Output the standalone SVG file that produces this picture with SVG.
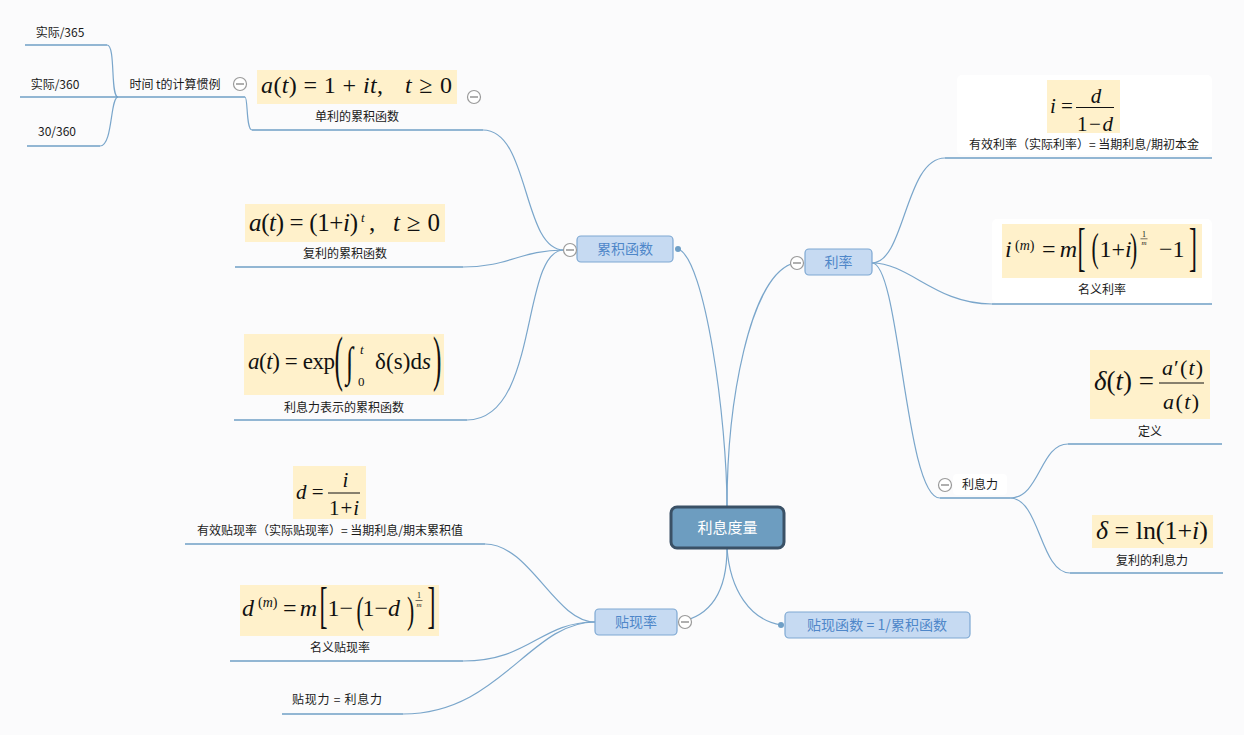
<svg xmlns="http://www.w3.org/2000/svg" width="1244" height="735" viewBox="0 0 1244 735">
<style>
.ln{fill:none;stroke:#7aa6cb;stroke-width:1.2}
.ul{stroke:#6f9fc6;stroke-width:1.3}
.lbl{font-family:"Noto Sans CJK SC","Noto Sans",sans-serif;font-size:12px;fill:#1a1a1a;text-anchor:middle}
.tbox{fill:#c6daf2;stroke:#7ea8d2;stroke-width:1.2}
.tt{font-family:"Noto Sans CJK SC","Noto Sans",sans-serif;font-size:14px;fill:#4f87c9;text-anchor:middle}
.fm{fill:#fff1cb}
.m{font-family:"Liberation Serif","Times New Roman",serif;fill:#111}
.it{font-style:italic}
.col circle{fill:#fff;stroke:#9a9a9a;stroke-width:1.2}
.col line{stroke:#7a7a7a;stroke-width:1.2}
.dot{fill:#6f9fc6}
.wb{fill:#ffffff}
</style>
<rect width="1244" height="735" fill="#fbfbfc"/>

<g id="connectors">
<path class="ln" d="M678,249 C705,258 727,420 727,507"/>
<path class="ln" d="M727,507 C727,400 750,280 791,264"/>
<path class="ln" d="M727,548 C727,590 712,616 679,622"/>
<path class="ln" d="M727,548 C730,590 750,620 781,625"/>
<path class="ln" d="M483,130 C530,130 522,250 564,250"/>
<path class="ln" d="M463,267 C510,267 520,250 564,250"/>
<path class="ln" d="M467,420 C540,420 520,250 564,250"/>
<path class="ln" d="M245,97 C248,97 246,130 252,130"/>
<path class="ln" d="M107,45 C116,45 110,97 118,97"/>
<path class="ln" d="M100,146 C113,146 110,97 118,97"/>
<path class="ln" d="M872,263 C905,263 905,158 945,158"/>
<path class="ln" d="M872,263 C910,263 935,304 992,304"/>
<path class="ln" d="M872,263 C900,263 905,498 940,498"/>
<path class="ln" d="M1010,498 C1040,498 1040,444 1068,444"/>
<path class="ln" d="M1010,498 C1040,498 1040,573 1070,573"/>
<path class="ln" d="M485,544 C530,544 555,622 595,622"/>
<path class="ln" d="M463,661 C530,661 540,622 595,622"/>
<path class="ln" d="M403,714 C500,714 530,622 595,622"/>
</g>

<g id="root">
<rect x="671" y="507" width="113" height="41" rx="6" fill="#6d9dc0" stroke="#3a5166" stroke-width="3"/>
<text x="727.5" y="533" font-family="Noto Sans CJK SC, sans-serif" font-size="15" fill="#ffffff" text-anchor="middle">利息度量</text>
</g>

<g id="topic-leiji">
<rect class="tbox" x="577" y="236" width="96" height="26" rx="4"/>
<text class="tt" x="625" y="254">累积函数</text>
<circle class="dot" cx="678" cy="249" r="3"/>
<g class="col"><circle cx="570" cy="250" r="6.5"/><line x1="566" y1="250" x2="574" y2="250"/></g>
</g>

<g id="topic-lilv">
<rect class="tbox" x="805" y="249" width="67" height="26" rx="4"/>
<text class="tt" x="838.5" y="267">利率</text>
<g class="col"><circle cx="797" cy="263" r="6.5"/><line x1="793" y1="263" x2="801" y2="263"/></g>
</g>

<g id="topic-tiexianlv">
<rect class="tbox" x="595" y="609" width="82" height="26" rx="4"/>
<text class="tt" x="636" y="627">贴现率</text>
<g class="col"><circle cx="685" cy="622" r="6.5"/><line x1="681" y1="622" x2="689" y2="622"/></g>
</g>

<g id="topic-tiexianhanshu">
<rect class="tbox" x="785" y="612" width="185" height="26" rx="4"/>
<text class="tt" x="877" y="630" textLength="140">贴现函数 = 1/累积函数</text>
<circle class="dot" cx="781" cy="625" r="3"/>
</g>

<g id="leaf-365">
<line class="ul" x1="25" y1="45" x2="107" y2="45"/>
<text class="lbl" x="60" y="37">实际/365</text>
</g>
<g id="leaf-360">
<line class="ul" x1="20" y1="97" x2="118" y2="97"/>
<text class="lbl" x="55" y="89">实际/360</text>
</g>
<g id="leaf-30-360">
<line class="ul" x1="27" y1="146" x2="100" y2="146"/>
<text class="lbl" x="57" y="136">30/360</text>
</g>
<g id="node-shijian">
<line class="ul" x1="118" y1="97" x2="245" y2="97"/>
<text class="lbl" x="175" y="89">时间 t的计算惯例</text>
<g class="col"><circle cx="240" cy="84" r="6.5"/><line x1="236" y1="84" x2="244" y2="84"/></g>
</g>

<g id="node-danli">
<rect class="fm" x="257" y="70" width="200" height="34"/>
<text class="m" x="261" y="93" font-size="24" textLength="122"><tspan class="it">a</tspan>(<tspan class="it">t</tspan>) = 1 + <tspan class="it">it</tspan>,</text>
<text class="m" x="405" y="93" font-size="24" textLength="47"><tspan class="it">t</tspan> ≥ 0</text>
<text class="lbl" x="357" y="121">单利的累积函数</text>
<line class="ul" x1="252" y1="130" x2="483" y2="130"/>
<g class="col"><circle cx="474" cy="97" r="6.5"/><line x1="470" y1="97" x2="478" y2="97"/></g>
</g>

<g id="node-fuli">
<rect class="fm" x="245" y="204" width="200" height="38"/>
<text class="m" x="249" y="231" font-size="25" textLength="109"><tspan class="it">a</tspan>(<tspan class="it">t</tspan>) = (1+<tspan class="it">i</tspan>)</text>
<text class="m it" x="361" y="222" font-size="13">t</text>
<text class="m" x="369" y="231" font-size="25">,</text>
<text class="m" x="393" y="231" font-size="25" textLength="47"><tspan class="it">t</tspan> ≥ 0</text>
<text class="lbl" x="345" y="258">复利的累积函数</text>
<line class="ul" x1="235" y1="267" x2="463" y2="267"/>
</g>

<g id="node-lixili-leiji">
<rect class="fm" x="244" y="334" width="200" height="61"/>
<text class="m" x="248" y="369" font-size="23" textLength="87"><tspan class="it">a</tspan>(<tspan class="it">t</tspan>) = exp</text>
<text class="m" font-size="28" transform="translate(334.5,379) scale(0.9,2.18)">(</text>
<text class="m" font-size="26" transform="translate(346,376) scale(1,1.6)">∫</text>
<text class="m it" x="360" y="354" font-size="13">t</text>
<text class="m" x="358" y="386" font-size="13">0</text>
<text class="m" x="375" y="369" font-size="23" textLength="56">δ(s)d<tspan class="it">s</tspan></text>
<text class="m" font-size="28" transform="translate(433,379) scale(0.9,2.18)">)</text>
<text class="lbl" x="344" y="412">利息力表示的累积函数</text>
<line class="ul" x1="234" y1="420" x2="467" y2="420"/>
</g>

<g id="node-youxiaolilv">
<rect class="wb" x="957" y="75" width="255" height="80" rx="5"/>
<rect class="fm" x="1047" y="80" width="73" height="53"/>
<text class="m" x="1050" y="113" font-size="21"><tspan class="it">i</tspan> =</text>
<line x1="1076" y1="107.5" x2="1114" y2="107.5" stroke="#111" stroke-width="1"/>
<text class="m it" x="1096" y="103" font-size="21" text-anchor="middle">d</text>
<text class="m" x="1077" y="131" font-size="21" textLength="36">1−<tspan class="it">d</tspan></text>
<text class="lbl" x="1084" y="149">有效利率（实际利率）= 当期利息/期初本金</text>
<line class="ul" x1="945" y1="158" x2="1212" y2="158"/>
</g>

<g id="node-mingyililv">
<rect class="wb" x="992" y="219" width="220" height="84" rx="5"/>
<rect class="fm" x="1002" y="224" width="200" height="54"/>
<text class="m it" x="1005" y="257" font-size="24">i</text>
<text class="m" x="1015" y="250" font-size="14">(<tspan class="it">m</tspan>)</text>
<text class="m" x="1042" y="257" font-size="24" textLength="35">= <tspan class="it">m</tspan></text>
<text class="m" font-size="24" transform="translate(1077.5,264.6) scale(1.0,2.24)">[</text>
<text class="m" font-size="24" transform="translate(1091.5,260.7) scale(0.9,1.71)">(</text>
<text class="m" x="1099.5" y="257" font-size="24">1+<tspan class="it">i</tspan></text>
<text class="m" font-size="24" transform="translate(1130,260.7) scale(0.9,1.71)">)</text>
<text class="m" x="1144" y="237" font-size="8" text-anchor="middle">1</text>
<line x1="1140.5" y1="238.8" x2="1147.5" y2="238.8" stroke="#111" stroke-width="0.6"/>
<text class="m it" x="1144" y="244.5" font-size="7" text-anchor="middle">m</text>
<text class="m" x="1159" y="257" font-size="24">−1</text>
<text class="m" font-size="24" transform="translate(1189,264.6) scale(1.0,2.24)">]</text>
<text class="lbl" x="1102" y="294">名义利率</text>
<line class="ul" x1="992" y1="304" x2="1212" y2="304"/>
</g>

<g id="node-lixili">
<rect class="wb" x="953" y="474" width="54" height="21" rx="4"/>
<text class="lbl" x="980" y="489">利息力</text>
<line class="ul" x1="940" y1="498" x2="1010" y2="498"/>
<g class="col"><circle cx="945" cy="485" r="6.5"/><line x1="941" y1="485" x2="949" y2="485"/></g>
</g>

<g id="node-dingyi">
<rect class="fm" x="1090" y="350" width="120" height="69"/>
<text class="m" x="1094" y="390" font-size="27"><tspan class="it">δ</tspan>(<tspan class="it">t</tspan>) =</text>
<line x1="1159" y1="383" x2="1204" y2="383" stroke="#111" stroke-width="1"/>
<text class="m" x="1162" y="375" font-size="22" textLength="41"><tspan class="it">a</tspan>′(<tspan class="it">t</tspan>)</text>
<text class="m" x="1163" y="409" font-size="22" textLength="36"><tspan class="it">a</tspan>(<tspan class="it">t</tspan>)</text>
<text class="lbl" x="1150" y="436">定义</text>
<line class="ul" x1="1068" y1="444" x2="1222" y2="444"/>
</g>

<g id="node-fulilixili">
<rect class="fm" x="1092" y="515" width="121" height="33"/>
<text class="m" x="1096" y="539" font-size="26" textLength="112"><tspan class="it">δ</tspan> = ln(1+<tspan class="it">i</tspan>)</text>
<text class="lbl" x="1152" y="565">复利的利息力</text>
<line class="ul" x1="1070" y1="573" x2="1223" y2="573"/>
</g>

<g id="node-youxiaotiexian">
<rect class="fm" x="293" y="466" width="73" height="53"/>
<text class="m" x="296" y="499" font-size="21"><tspan class="it">d</tspan> =</text>
<line x1="328" y1="493" x2="360" y2="493" stroke="#111" stroke-width="1"/>
<text class="m it" x="345.5" y="487" font-size="21" text-anchor="middle">i</text>
<text class="m" x="329" y="515" font-size="21" textLength="30">1+<tspan class="it">i</tspan></text>
<text class="lbl" x="330" y="535">有效贴现率（实际贴现率）= 当期利息/期末累积值</text>
<line class="ul" x1="185" y1="544" x2="485" y2="544"/>
</g>

<g id="node-mingyitiexian">
<rect class="fm" x="240" y="585" width="199" height="51"/>
<text class="m it" x="242" y="616" font-size="24">d</text>
<text class="m" x="258" y="607" font-size="14">(<tspan class="it">m</tspan>)</text>
<text class="m" x="283" y="616" font-size="24" textLength="34">= <tspan class="it">m</tspan></text>
<text class="m" font-size="24" transform="translate(319.5,622.2) scale(1.0,2.09)">[</text>
<text class="m" x="327.5" y="616" font-size="24">1−</text>
<text class="m" font-size="24" transform="translate(356.5,623.2) scale(0.9,1.61)">(</text>
<text class="m" x="362.5" y="616" font-size="24">1−<tspan class="it">d</tspan></text>
<text class="m" font-size="24" transform="translate(407,623.2) scale(0.9,1.61)">)</text>
<text class="m" x="419" y="597.5" font-size="8" text-anchor="middle">1</text>
<line x1="415.5" y1="600.5" x2="422.5" y2="600.5" stroke="#111" stroke-width="0.6"/>
<text class="m it" x="419" y="606.5" font-size="7" text-anchor="middle">m</text>
<text class="m" font-size="24" transform="translate(427.5,622.2) scale(1.0,2.09)">]</text>
<text class="lbl" x="340" y="652">名义贴现率</text>
<line class="ul" x1="230" y1="661" x2="463" y2="661"/>
</g>

<g id="node-tiexianli">
<text class="lbl" x="337" y="704" textLength="90">贴现力 = 利息力</text>
<line class="ul" x1="282" y1="714" x2="403" y2="714"/>
</g>
</svg>
